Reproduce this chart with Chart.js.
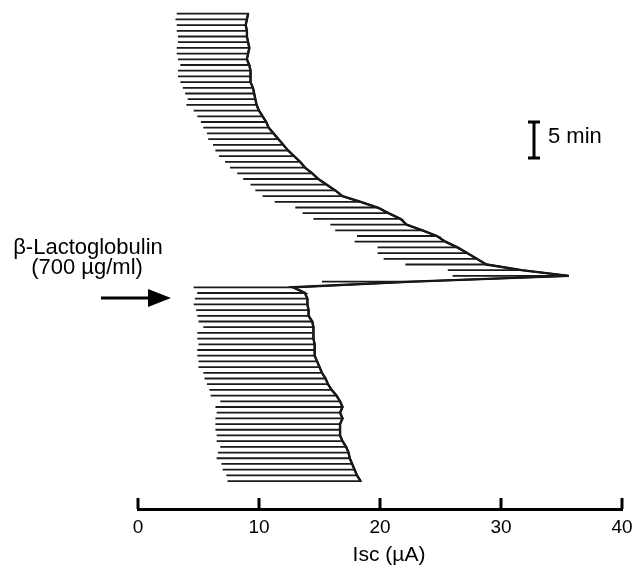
<!DOCTYPE html>
<html>
<head>
<meta charset="utf-8">
<script src="https://cdn.jsdelivr.net/npm/chart.js@4.4.0/dist/chart.umd.min.js"></script>
<style>
  html, body { margin: 0; padding: 0; background: #fff; }
</style>
</head>
<body>
<canvas id="grafico" width="636" height="574"></canvas>
<script>
// Isc (µA) al inicio (izq.) y al final (der.) de cada barrido, de arriba hacia abajo.
// Antes de añadir beta-lactoglobulina.
const inicioAntes = [3.2, 3.1, 3.2, 3.2, 3.3, 3.3, 3.2, 3.2, 3.3, 3.5, 3.3, 3.3, 3.5, 3.7, 3.9, 4.1,
  4.0, 4.6, 4.9, 5.2, 5.4, 5.7, 5.8, 6.2, 6.4, 6.7, 7.2, 7.6, 8.2, 8.7, 9.3, 9.7,
  10.3, 11.3, 13.0, 13.6, 14.5, 15.9, 16.3, 18.1, 17.9, 19.8, 19.8, 20.3, 22.1, 25.6, 26.0, 15.2];
const finAntes = [9.1, 9.0, 8.9, 9.0, 9.0, 9.1, 9.2, 9.1, 9.0, 9.2, 9.3, 9.3, 9.3, 9.5, 9.6, 9.7,
  9.8, 10.0, 10.3, 10.6, 10.8, 11.2, 11.6, 12.0, 12.4, 12.9, 13.4, 13.8, 14.4, 14.9, 15.6, 16.3,
  16.9, 18.4, 19.8, 20.7, 21.7, 22.2, 23.5, 24.7, 25.4, 26.4, 27.2, 28.0, 28.8, 31.7, 35.6, 22.7];
// Después de añadirla (700 µg/ml).
const inicioDespues = [4.6, 4.9, 4.7, 4.6, 4.8, 4.9, 5.0, 5.4, 4.9, 4.9, 5.0, 4.9, 4.9, 5.0, 5.0, 5.4,
  5.5, 5.7, 5.9, 6.0, 6.8, 6.4, 6.5, 6.4, 6.4, 6.4, 6.5, 6.5, 6.8, 6.6, 6.5, 6.9, 7.0, 7.3, 7.4];
const finDespues = [12.8, 13.8, 14.0, 14.0, 14.1, 14.1, 14.4, 14.5, 14.5, 14.5, 14.6, 14.6, 14.6, 14.8, 15.0, 15.2,
  15.5, 15.7, 16.0, 16.4, 16.7, 16.9, 16.7, 16.9, 16.7, 16.7, 16.7, 16.9, 17.2, 17.4, 17.5, 17.7, 17.9, 18.1, 18.4];
const ticksX = [0, 10, 20, 30, 40];

const inicio = inicioAntes.concat(inicioDespues);
const fin = finAntes.concat(finDespues);

// Recorrido de la pluma: fin -> inicio -> fin en cada fila.
const barridos = [];
fin.forEach((v, i) => {
  barridos.push({ x: v, y: i }, { x: inicio[i], y: i }, { x: v, y: i });
});
const traza = fin.map((v, i) => ({ x: v, y: i }));

const FUENTE = "'Liberation Sans', Arial, sans-serif";

// Marcas del eje hacia arriba, título del eje, barra de escala y flecha de adición.
const anotaciones = {
  id: "anotaciones",
  afterDraw(chart) {
    const { ctx, scales: { x }, chartArea } = chart;
    ctx.save();
    ctx.strokeStyle = "#000";
    ctx.fillStyle = "#000";
    ctx.lineWidth = 3;
    ticksX.forEach(t => {
      const px = Math.round(x.getPixelForValue(t));
      ctx.beginPath();
      ctx.moveTo(px, chartArea.bottom);
      ctx.lineTo(px, chartArea.bottom - 11);
      ctx.stroke();
    });

    ctx.font = "21px " + FUENTE;
    ctx.textAlign = "center";
    ctx.textBaseline = "middle";
    ctx.fillText("Isc (µA)", 389, 555);

    // barra de 5 min
    ctx.beginPath();
    ctx.moveTo(534, 122); ctx.lineTo(534, 158);
    ctx.moveTo(528, 122); ctx.lineTo(540, 122);
    ctx.moveTo(528, 158); ctx.lineTo(540, 158);
    ctx.stroke();
    ctx.font = "22px " + FUENTE;
    ctx.textAlign = "left";
    ctx.textBaseline = "alphabetic";
    ctx.fillText("5 min", 548, 143);

    // texto y flecha
    ctx.font = "22px " + FUENTE;
    ctx.textAlign = "center";
    ctx.fillText("β-Lactoglobulin", 88, 254);
    ctx.fillText("(700 µg/ml)", 87, 274);
    ctx.beginPath();
    ctx.moveTo(101, 298); ctx.lineTo(150, 298);
    ctx.stroke();
    ctx.beginPath();
    ctx.moveTo(148, 289); ctx.lineTo(171, 298); ctx.lineTo(148, 307);
    ctx.closePath();
    ctx.fill();
    ctx.restore();
  }
};

new Chart(document.getElementById("grafico"), {
  type: "scatter",
  data: {
    datasets: [
      {
        data: barridos,
        showLine: true,
        borderColor: "#1a1a1a",
        borderWidth: 1.8,
        pointRadius: 0,
        tension: 0
      },
      {
        data: traza,
        showLine: true,
        borderColor: "#000",
        borderWidth: 2.4,
        pointRadius: 0,
        tension: 0
      }
    ]
  },
  options: {
    responsive: false,
    animation: false,
    events: [],
    layout: { padding: { top: 8, left: 138, right: 14, bottom: 5 } },
    plugins: { legend: { display: false }, tooltip: { enabled: false } },
    scales: {
      x: {
        type: "linear",
        min: 0,
        max: 40,
        afterBuildTicks: scale => { scale.ticks = ticksX.map(v => ({ value: v })); },
        afterFit: scale => {
          scale.height = 60;
          scale.paddingLeft = 0;
          scale.paddingRight = 0;
        },
        grid: { display: false, drawTicks: false },
        border: { display: true, color: "#000", width: 3 },
        ticks: { color: "#000", padding: 7, maxRotation: 0, font: { size: 19, family: FUENTE } },
        title: { display: false }
      },
      y: {
        type: "linear",
        display: false,
        reverse: true,
        min: -1,
        max: 86.9
      }
    }
  },
  plugins: [anotaciones]
});
</script>
</body>
</html>
